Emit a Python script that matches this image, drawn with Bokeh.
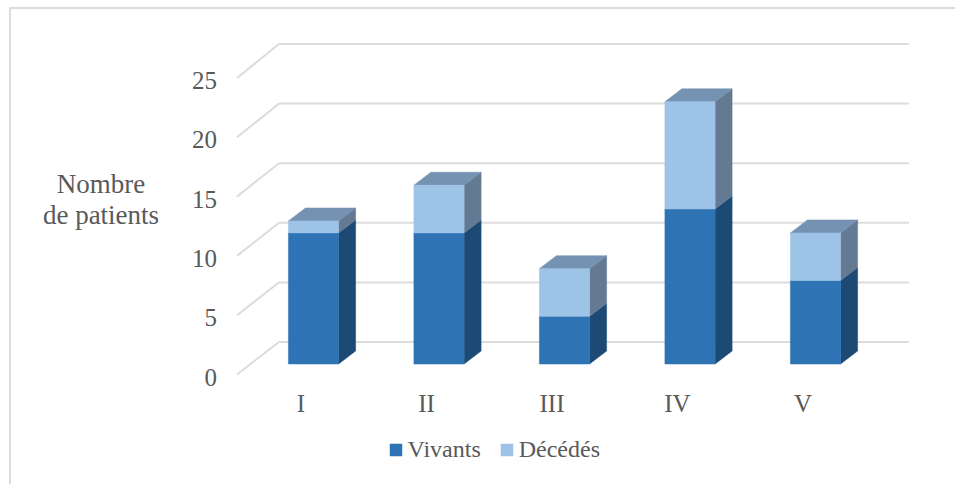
from bokeh.plotting import figure
from bokeh.embed import file_html
from bokeh.resources import INLINE
from bokeh.models import (Range1d, LinearAxis, FixedTicker, Legend, LegendItem, Label,
                          ColumnDataSource)

categories = ["I", "II", "III", "IV", "V"]
vivants = [11, 11, 4, 13, 7]
decedes = [1, 4, 4, 9, 4]
y_ticks = [0, 5, 10, 15, 20, 25]

FONT = "Liberation Serif"
TXT = "#595959"
GRID = "#dcdcdc"
C_V, C_V_SIDE = "#2e74b5", "#1c4a75"
C_D, C_D_SIDE, C_TOP = "#9dc3e6", "#647a92", "#7592b2"

# layout: pixels of the page
PAGE_X, PAGE_Y = 10.5, 9
W, H = 946, 477
F_L, F_R, F_T, F_B = PAGE_X, PAGE_X + W, PAGE_Y, PAGE_Y + H   # plot frame fills the figure
X0, DX = 312.5, 125.5                      # first bar centre, spacing
Y0, DY = 363.5, 11.92                      # value 0 at bar foot, pixels per unit
BAR_W = 0.40
DEPTH_X, DEPTH_Y = 17 / DX, 13 / DY        # 3-D bar depth in data units
WALL_Y = (Y0 - 341.5) / DY                 # back wall lift
DIAG_Y = (Y0 - 374) / DY                   # front end of floor diagonals
WALL_L = (278 - X0) / DX
WALL_R = (908 - X0) / DX
DIAG_L = (236 - X0) / DX

p = figure(width=W, height=H, output_backend="svg", toolbar_location=None,
           x_range=Range1d((F_L - X0) / DX, (F_R - X0) / DX),
           y_range=Range1d((Y0 - F_B) / DY, (Y0 - F_T) / DY),
           x_axis_location=None, y_axis_location=None,
           min_border_left=0, min_border_right=0, min_border_top=0, min_border_bottom=0)
p.outline_line_color = None
p.grid.visible = False
p.background_fill_color = "white"
p.border_fill_color = "white"
p.styles = {"border-left": f"2px solid {GRID}", "border-top": f"2px solid {GRID}",
            "margin-left": "8.5px", "margin-top": "7px"}

# value and category axes, offset from the bars like the sheared 3-D axes
LAB_Y0, LAB_DY = 376.5, 11.86
p.extra_y_ranges = {"v": Range1d((LAB_Y0 - F_B) / LAB_DY, (LAB_Y0 - F_T) / LAB_DY)}
LAB_X0 = 300
p.extra_x_ranges = {"c": Range1d((F_L - LAB_X0) / DX, (F_R - LAB_X0) / DX)}

ya = LinearAxis(y_range_name="v", ticker=FixedTicker(ticks=y_ticks), fixed_location=DIAG_L)
xa = LinearAxis(x_range_name="c", ticker=FixedTicker(ticks=list(range(len(categories)))),
                major_label_overrides={i: c for i, c in enumerate(categories)},
                fixed_location=(Y0 - 377) / DY)
for a in (ya, xa):
    a.axis_line_color = None
    a.major_tick_line_color = None
    a.minor_tick_line_color = None
    a.major_label_text_font = FONT
    a.major_label_text_color = TXT
    a.major_label_text_font_size = "25px"
ya.major_label_standoff = 14
xa.major_label_standoff = 6
p.add_layout(ya, "left")
p.add_layout(xa, "below")

# walls
p.segment(x0=[WALL_L] * len(y_ticks), x1=[WALL_R] * len(y_ticks),
          y0=[v + WALL_Y for v in y_ticks], y1=[v + WALL_Y for v in y_ticks],
          line_color=GRID, line_width=2)
p.segment(x0=[DIAG_L] * len(y_ticks), x1=[WALL_L] * len(y_ticks),
          y0=[v * (LAB_DY / DY) + DIAG_Y for v in y_ticks], y1=[v + WALL_Y for v in y_ticks],
          line_color=GRID, line_width=2)

xs = list(range(len(categories)))
tops = [a + b for a, b in zip(vivants, decedes)]


def side(bottoms, upper):
    return ([[i + BAR_W / 2, i + BAR_W / 2 + DEPTH_X, i + BAR_W / 2 + DEPTH_X, i + BAR_W / 2] for i in xs],
            [[b, b + DEPTH_Y, t + DEPTH_Y, t] for b, t in zip(bottoms, upper)])


sx, sy = side([0] * len(xs), vivants)
p.patches(sx, sy, fill_color=C_V_SIDE, line_color=C_V_SIDE, line_width=0.5)
sx, sy = side(vivants, tops)
p.patches(sx, sy, fill_color=C_D_SIDE, line_color=C_D_SIDE, line_width=0.5)
p.patches([[i - BAR_W / 2, i + BAR_W / 2, i + BAR_W / 2 + DEPTH_X, i - BAR_W / 2 + DEPTH_X] for i in xs],
          [[t, t, t + DEPTH_Y, t + DEPTH_Y] for t in tops],
          fill_color=C_TOP, line_color=C_TOP, line_width=0.5)

src = ColumnDataSource(dict(x=xs, v=vivants, d=decedes, t=tops, z=[0] * len(xs)))
r1 = p.vbar(x="x", width=BAR_W, bottom="z", top="v", source=src, fill_color=C_V, line_color=C_V, line_width=0.5)
r2 = p.vbar(x="x", width=BAR_W, bottom="v", top="t", source=src, fill_color=C_D, line_color=C_D, line_width=0.5)

legend = Legend(items=[LegendItem(label="Vivants", renderers=[r1]),
                       LegendItem(label="Décédés", renderers=[r2])],
                orientation="horizontal", location=(387.5 - F_L, F_B - 463),
                background_fill_alpha=0, border_line_color=None,
                padding=0, margin=0, spacing=18, label_standoff=5,
                glyph_width=15, glyph_height=15,
                label_text_font=FONT, label_text_color=TXT, label_text_font_size="24px")
p.add_layout(legend)

for txt, cy in (("Nombre", 183.5), ("de patients", 214.5)):
    p.add_layout(Label(x=(100 - X0) / DX, y=(Y0 - cy) / DY,
                       text=txt, text_align="center", text_baseline="middle",
                       text_font=FONT, text_color=TXT, text_font_size="27px"))

open("out.html", "w").write(file_html(p, INLINE))
